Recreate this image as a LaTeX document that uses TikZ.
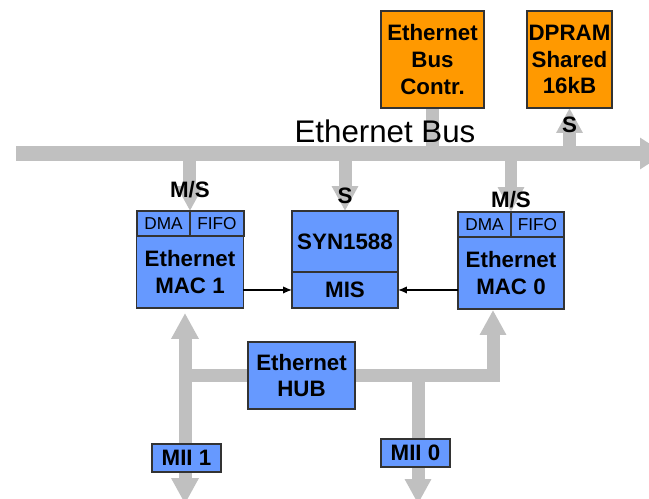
\documentclass[tikz,border=0pt]{standalone}
\usepackage{fontspec}
\setmainfont{Liberation Sans}
\usepackage{xcolor}
\usetikzlibrary{arrows.meta,positioning,backgrounds}
\definecolor{macblue}{HTML}{6699FF}
\definecolor{ctlorange}{HTML}{FF9900}
\definecolor{busgray}{HTML}{C0C0C0}

\begin{document}
\begin{tikzpicture}[
x=0.02cm, y=-0.02cm,
box/.style={draw=black!80, line width=0.8pt, fill=macblue, align=center, inner sep=0pt, outer sep=0pt,
  font=\fontsize{12.7}{15.2}\selectfont\bfseries},
ctl/.style={box, fill=ctlorange},
cell/.style={box, minimum height=0.5cm, font=\fontsize{9.8}{11}\selectfont},
mii/.style={box, minimum width=1.38cm, minimum height=0.56cm},
lbl/.style={inner sep=0pt, text=black, font=\fontsize{12.7}{15}\selectfont\bfseries},
bus/.style={line width=0.3cm, busgray, -{Triangle[width=0.6cm,length=0.5cm]}},
tap/.style={line width=0.26cm, busgray},
tarr/.style={tap, -{Triangle[width=0.5cm,length=0.5cm]}},
dtarr/.style={tap, {Triangle[width=0.52cm,length=0.52cm]}-{Triangle[width=0.52cm,length=0.52cm]}},
sig/.style={draw, line width=0.8pt, -{Latex[length=1.8mm,width=1.5mm]}}
]
\useasboundingbox (0,0) rectangle (649,499);
\clip (0,0) rectangle (649,499);

% controller and shared memory
\node[ctl, minimum width=2.06cm, minimum height=1.94cm] (ctrl) at (432.5,59.5) {Ethernet\\Bus\\Contr.};
\node[ctl, minimum width=1.70cm, minimum height=1.94cm] (dpram) at (569.5,59.5) {DPRAM\\Shared\\16kB};
\node[font=\fontsize{17.8}{20}\selectfont] (buslbl) at (385,131) {Ethernet Bus};

% MACs and SYN1588
\node[cell, minimum width=1.06cm] (dma1) at (163.5,223.5) {DMA};
\node[cell, minimum width=1.08cm, right=0pt of dma1] (fifo1) {FIFO};
\node[box, minimum width=2.14cm, minimum height=1.44cm, below=0pt of dma1.south east] (mac1) {Ethernet\\MAC 1};

\node[box, minimum width=2.12cm, minimum height=1.22cm] (syn) at (345,241.5) {SYN1588};
\node[box, minimum width=2.12cm, minimum height=0.72cm, below=0pt of syn] (mis) {MIS};

\node[cell, minimum width=1.06cm] (dma0) at (484.5,224.5) {DMA};
\node[cell, minimum width=1.06cm, right=0pt of dma0] (fifo0) {FIFO};
\node[box, minimum width=2.12cm, minimum height=1.44cm, below=0pt of dma0.south east] (mac0) {Ethernet\\MAC 0};

% hub and MII ports
\node[box, minimum width=2.14cm, minimum height=1.34cm] (hub) at (301.5,375.5) {Ethernet\\HUB};
\node[mii] (mii1) at (186.5,458) {MII 1};
\node[mii] (mii0) at (415.5,453) {MII 0};

\draw[sig] (mac1.east |- mis) -- (mis.west);
\draw[sig] (mac0.west |- mis) -- (mis.east);

\begin{scope}[on background layer]
\coordinate (busL) at (16,153.5);
\coordinate (busR) at (665,153.5);
\coordinate (up1) at (185,313);
\coordinate (dn1) at (185,504);
\coordinate (up0) at (493,310);
\coordinate (br0) at (418,375.5);
\coordinate (dn0) at (418,504);

\draw[bus] (busL) -- (busR);
\draw[tap] (ctrl.south) -- (ctrl.south |- busL);
\draw[tarr] (dpram.south |- busL) -- node[lbl, pos=0.63] (sdp) {S} (dpram.south);
\draw[tarr] (dma1.north east |- busL) -- node[lbl, pos=0.62] (ms1) {M/S} (dma1.north east);
\draw[tarr] (syn.north |- busL) -- node[lbl, pos=0.74] (ssyn) {S} (syn.north);
\draw[tarr] (dma0.north east |- busL) -- node[lbl, pos=0.79] (ms0) {M/S} (dma0.north east);

\draw[dtarr] (dn1) -- (up1);
\draw[tap] (hub.west) -- (hub.west -| up1);
\draw[tarr] (hub.east) -| (up0);
\draw[tarr] (br0) -- (dn0);
\end{scope}
\end{tikzpicture}
\end{document}
